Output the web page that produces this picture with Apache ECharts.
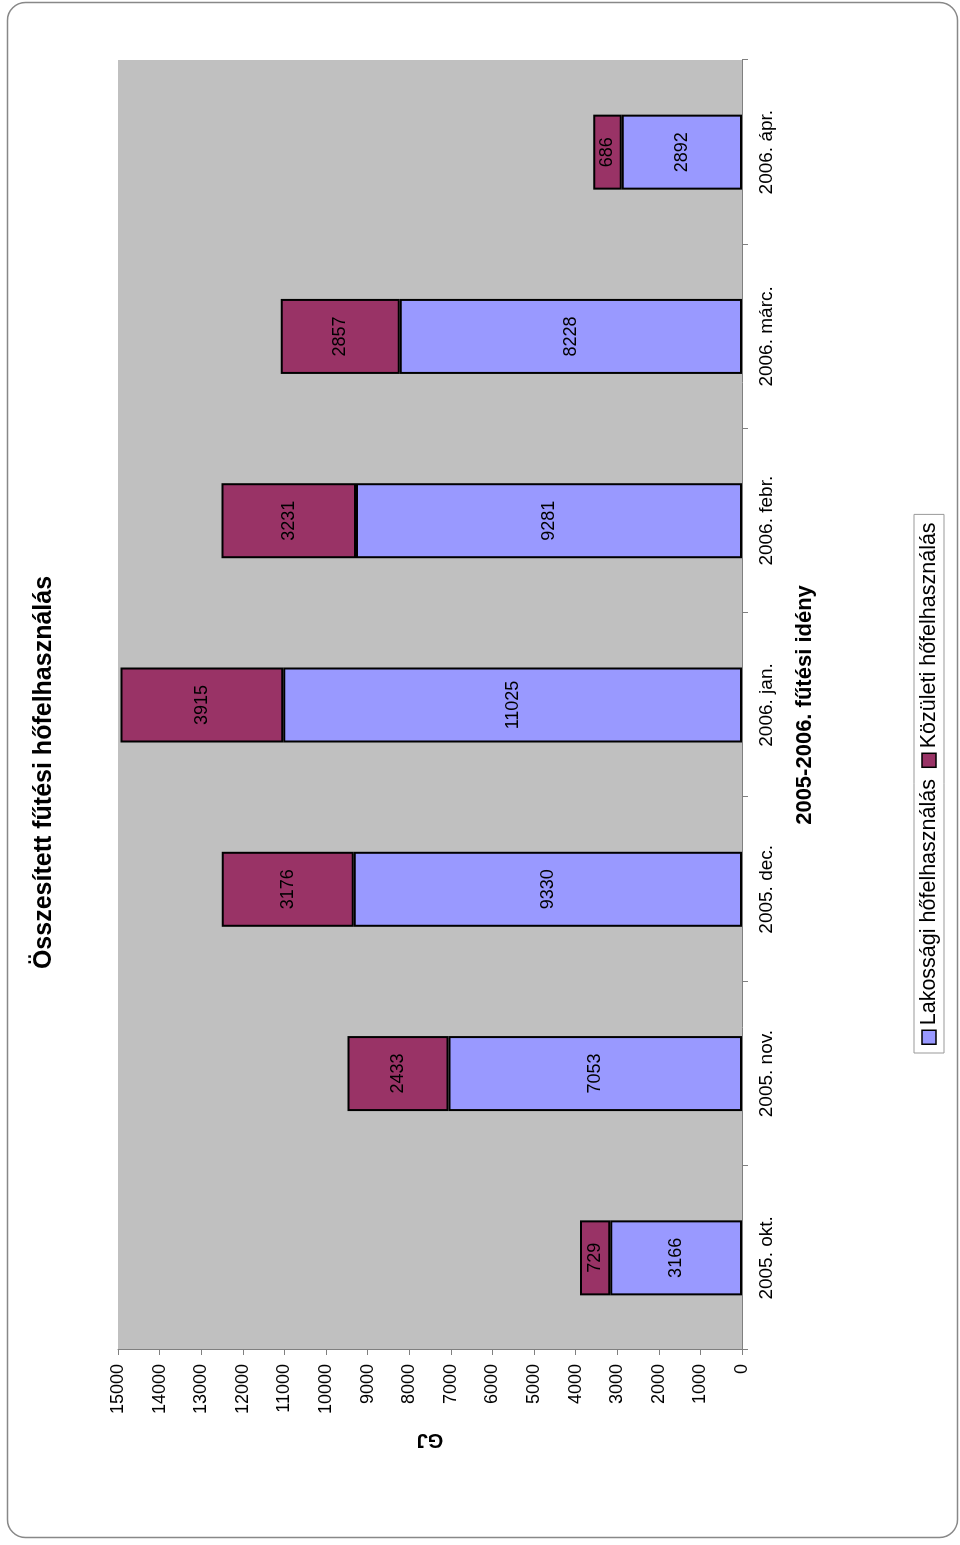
<!DOCTYPE html>
<html>
<head>
<meta charset="utf-8">
<script src="https://cdn.jsdelivr.net/npm/echarts@6/dist/echarts.min.js"></script>
<style>
html,body{margin:0;padding:0;width:960px;height:1545px;overflow:hidden;background:#fff;}
#chart{position:absolute;left:0;top:0;width:1545px;height:960px;transform-origin:0 0;transform:translateY(1545px) rotate(-90deg);}
</style>
</head>
<body>
<div id="chart"></div>
<script>
var categories = ['2005. okt.', '2005. nov.', '2005. dec.', '2006. jan.', '2006. febr.', '2006. márc.', '2006. ápr.'];
var lakossagi = [3166, 7053, 9330, 11025, 9281, 8228, 2892];
var kozuleti = [729, 2433, 3176, 3915, 3231, 2857, 686];
var seriesNames = ['Lakossági hőfelhasználás', 'Közületi hőfelhasználás'];
var titleText = 'Összesített fűtési hőfelhasználás';
var xName = '2005-2006. fűtési idény';
var yName = 'GJ';

var FONT = '"Liberation Sans", Arial, sans-serif';
var chart = echarts.init(document.getElementById('chart'), null, {renderer: 'canvas'});
chart.setOption({
  animation: false,
  backgroundColor: '#fff',
  textStyle: {fontFamily: FONT},
  graphic: [{
    type: 'rect', left: 5, top: 5,
    shape: {width: 1535, height: 950, r: 18},
    style: {fill: 'none', stroke: '#888', lineWidth: 1.5},
    z: -1
  }],
  title: {
    text: titleText, left: 'center', top: 27,
    textStyle: {fontFamily: FONT, fontSize: 25, fontWeight: 'bold', color: '#000'}
  },
  legend: {
    data: seriesNames,
    left: 492, top: 914,
    orient: 'horizontal',
    itemWidth: 14, itemHeight: 14, itemGap: 11,
    padding: [4, 8],
    borderColor: '#999', borderWidth: 1,
    icon: 'rect',
    textStyle: {fontFamily: FONT, fontSize: 21.5, color: '#000'},
    itemStyle: {borderColor: '#000', borderWidth: 1.5}
  },
  grid: {
    left: 195, right: 60, top: 118, bottom: 218,
    show: true, backgroundColor: '#C0C0C0', borderWidth: 0
  },
  xAxis: {
    type: 'category', data: categories,
    axisLine: {show: true, lineStyle: {color: '#808080', width: 1}},
    axisTick: {show: true, alignWithLabel: false, length: 6, lineStyle: {color: '#808080'}},
    axisLabel: {fontFamily: FONT, fontSize: 19, color: '#000', margin: 15},
    name: xName, nameLocation: 'middle', nameGap: 52,
    nameTextStyle: {fontFamily: FONT, fontSize: 22, fontWeight: 'bold', color: '#000'}
  },
  yAxis: {
    type: 'value', min: 0, max: 15000, interval: 1000,
    splitLine: {show: false},
    axisLine: {show: true, lineStyle: {color: '#808080', width: 1}},
    axisTick: {show: true, length: 5, lineStyle: {color: '#808080'}},
    axisLabel: {fontFamily: FONT, fontSize: 18, color: '#000', margin: 14,
      formatter: function (v) { return String(v); }},
    name: yName, nameLocation: 'middle', nameRotate: 90, nameGap: 80,
    nameTextStyle: {fontFamily: FONT, fontSize: 20, fontWeight: 'bold', color: '#000'}
  },
  series: [{
    name: seriesNames[0], type: 'bar', stack: 'total', data: lakossagi,
    barWidth: 75,
    itemStyle: {color: '#9999FF', borderColor: '#000', borderWidth: 2},
    label: {show: true, position: 'inside', fontFamily: FONT, fontSize: 18, color: '#000'}
  }, {
    name: seriesNames[1], type: 'bar', stack: 'total', data: kozuleti,
    barWidth: 75,
    itemStyle: {color: '#993366', borderColor: '#000', borderWidth: 2},
    label: {show: true, position: 'inside', fontFamily: FONT, fontSize: 18, color: '#000'}
  }]
});
</script>
</body>
</html>
